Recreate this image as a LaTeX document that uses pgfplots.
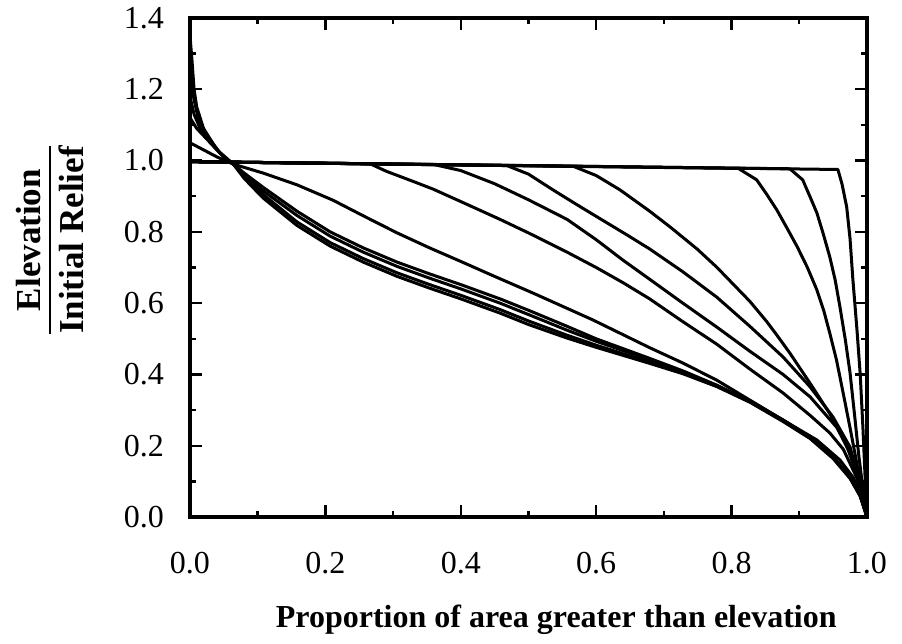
\documentclass[border=0pt]{standalone}
\usepackage{amsmath}
\usepackage{fontspec}
\setmainfont{Liberation Serif}
\usepackage{pgfplots}
\pgfplotsset{compat=1.18}
\pgfplotsset{curve/.style={black, solid, line width=1.5pt, line join=round, mark=none}}
\begin{document}
\begin{tikzpicture}
\path[use as bounding box] (-95pt,-63.5pt) rectangle (356pt,258.5pt);
\begin{axis}[
  scale only axis,
  width=338.5pt, height=249.5pt,
  at={(0,0)}, anchor=south west,
  xmin=0, xmax=1, ymin=0, ymax=1.4,
  xtick={0,0.2,...,1.0}, ytick={0,0.2,...,1.4},
  minor x tick num=1, minor y tick num=1,
  major tick length=6pt, minor tick length=3pt,
  tick style={line width=1.2pt, black},
  axis line style={line width=2pt},
  tick align=inside,
  xticklabel style={font=\fontsize{16}{18}\selectfont, yshift=-14pt},
  yticklabel style={font=\fontsize{16}{18}\selectfont, xshift=-9.5pt},
  /pgf/number format/assume math mode=true,
  /pgf/number format/fixed, /pgf/number format/fixed zerofill, /pgf/number format/precision=1,
  xlabel={\bfseries Proportion of area greater than elevation},
  xlabel style={font=\fontsize{16}{18}\selectfont, at={(axis description cs:0.541,0)}, anchor=center, yshift=-51.5pt},
  ylabel={$\genfrac{}{}{1.3pt}{0}{\mbox{\fontsize{17.5}{19}\selectfont\bfseries Elevation}}{\mbox{\fontsize{17.5}{19}\selectfont\bfseries Initial Relief}}$},
  ylabel style={at={(axis description cs:-0.2068,0.555)}, anchor=center},
  clip=true,
]
% A: flat curve
\addplot[curve] coordinates {(0,0.997)(0.5,0.986)(0.957,0.975)(0.963,0.935)(0.970,0.87)(0.975,0.78)(0.979,0.67)(0.985,0.53)(0.990,0.40)(0.994,0.25)(0.997,0.12)(1,0)};
% B
\addplot[curve] coordinates {(0,0.997)(0.886,0.977)(0.905,0.946)(0.916,0.898)(0.926,0.853)(0.935,0.797)(0.945,0.730)(0.953,0.665)(0.960,0.590)(0.968,0.497)(0.975,0.404)(0.982,0.28)(0.988,0.17)(0.994,0.08)(1,0)};
% C
\addplot[curve] coordinates {(0,0.997)(0.81,0.978)(0.837,0.946)(0.852,0.905)(0.867,0.861)(0.882,0.81)(0.897,0.758)(0.912,0.70)(0.926,0.637)(0.936,0.58)(0.945,0.516)(0.955,0.44)(0.963,0.365)(0.975,0.25)(0.985,0.15)(0.993,0.07)(1,0)};
% D
\addplot[curve] coordinates {(0,0.997)(0.566,0.984)(0.6,0.958)(0.635,0.918)(0.679,0.858)(0.709,0.814)(0.749,0.752)(0.778,0.701)(0.827,0.605)(0.852,0.548)(0.867,0.51)(0.886,0.46)(0.916,0.375)(0.945,0.29)(0.970,0.20)(0.985,0.12)(0.995,0.05)(1,0)};
% E
\addplot[curve] coordinates {(0,0.997)(0.468,0.986)(0.5,0.962)(0.536,0.918)(0.57,0.878)(0.61,0.832)(0.645,0.792)(0.679,0.752)(0.728,0.688)(0.778,0.617)(0.827,0.535)(0.876,0.449)(0.916,0.365)(0.95,0.28)(0.975,0.196)(0.99,0.09)(1,0)};
% F
\addplot[curve] coordinates {(0,0.997)(0.36,0.989)(0.4,0.972)(0.45,0.935)(0.5,0.89)(0.557,0.835)(0.6,0.778)(0.64,0.72)(0.679,0.667)(0.728,0.60)(0.778,0.533)(0.827,0.465)(0.876,0.40)(0.916,0.337)(0.956,0.25)(0.98,0.16)(0.993,0.07)(1,0)};
% G
\addplot[curve] coordinates {(0,0.997)(0.266,0.991)(0.29,0.97)(0.329,0.942)(0.359,0.92)(0.4,0.885)(0.458,0.835)(0.5,0.797)(0.557,0.743)(0.6,0.70)(0.64,0.657)(0.679,0.612)(0.728,0.548)(0.778,0.485)(0.827,0.415)(0.876,0.348)(0.916,0.285)(0.945,0.236)(0.965,0.19)(0.985,0.11)(1,0)};
% H
\addplot[curve] coordinates {(0,1.05)(0.02,1.03)(0.04,1.01)(0.064,0.99)(0.108,0.965)(0.158,0.932)(0.211,0.889)(0.256,0.845)(0.306,0.797)(0.354,0.755)(0.4,0.717)(0.45,0.675)(0.507,0.628)(0.595,0.553)(0.679,0.475)(0.728,0.432)(0.778,0.384)(0.827,0.328)(0.876,0.272)(0.926,0.216)(0.96,0.16)(0.98,0.11)(0.993,0.05)(1,0)};
% bunch b4
\addplot[curve] coordinates {(0,1.12)(0.01,1.09)(0.03,1.05)(0.05,1.01)(0.064,0.99)(0.08,0.965)(0.108,0.925)(0.158,0.858)(0.207,0.80)(0.256,0.755)(0.306,0.715)(0.354,0.682)(0.4,0.652)(0.458,0.612)(0.5,0.58)(0.557,0.535)(0.6,0.50)(0.679,0.445)(0.728,0.41)(0.778,0.37)(0.827,0.325)(0.876,0.272)(0.916,0.224)(0.95,0.168)(0.975,0.112)(0.99,0.06)(1,0)};
% bunch b3
\addplot[curve] coordinates {(0,1.18)(0.006,1.13)(0.015,1.09)(0.03,1.05)(0.05,1.01)(0.064,0.99)(0.08,0.96)(0.108,0.915)(0.158,0.846)(0.207,0.788)(0.256,0.743)(0.306,0.703)(0.354,0.670)(0.4,0.640)(0.458,0.600)(0.5,0.568)(0.557,0.524)(0.6,0.493)(0.679,0.441)(0.728,0.408)(0.778,0.369)(0.827,0.325)(0.876,0.272)(0.916,0.224)(0.95,0.168)(0.975,0.112)(0.99,0.06)(1,0)};
% bunch b2
\addplot[curve] coordinates {(0,1.25)(0.005,1.18)(0.012,1.12)(0.025,1.07)(0.045,1.02)(0.064,0.99)(0.08,0.955)(0.108,0.905)(0.158,0.828)(0.207,0.77)(0.256,0.725)(0.306,0.685)(0.354,0.652)(0.4,0.622)(0.458,0.582)(0.5,0.55)(0.557,0.51)(0.6,0.482)(0.679,0.4345)(0.728,0.404)(0.778,0.367)(0.827,0.323)(0.876,0.27)(0.916,0.222)(0.95,0.166)(0.975,0.11)(0.99,0.06)(1,0)};
% bunch b1
\addplot[curve] coordinates {(0,1.35)(0.003,1.28)(0.006,1.2)(0.01,1.15)(0.02,1.09)(0.04,1.03)(0.064,0.99)(0.08,0.95)(0.108,0.895)(0.158,0.818)(0.207,0.76)(0.256,0.715)(0.306,0.675)(0.354,0.642)(0.4,0.612)(0.458,0.572)(0.5,0.54)(0.557,0.502)(0.6,0.476)(0.679,0.431)(0.728,0.402)(0.778,0.366)(0.827,0.322)(0.876,0.268)(0.916,0.22)(0.95,0.164)(0.975,0.108)(0.99,0.058)(1,0)};
\end{axis}
\end{tikzpicture}
\end{document}
